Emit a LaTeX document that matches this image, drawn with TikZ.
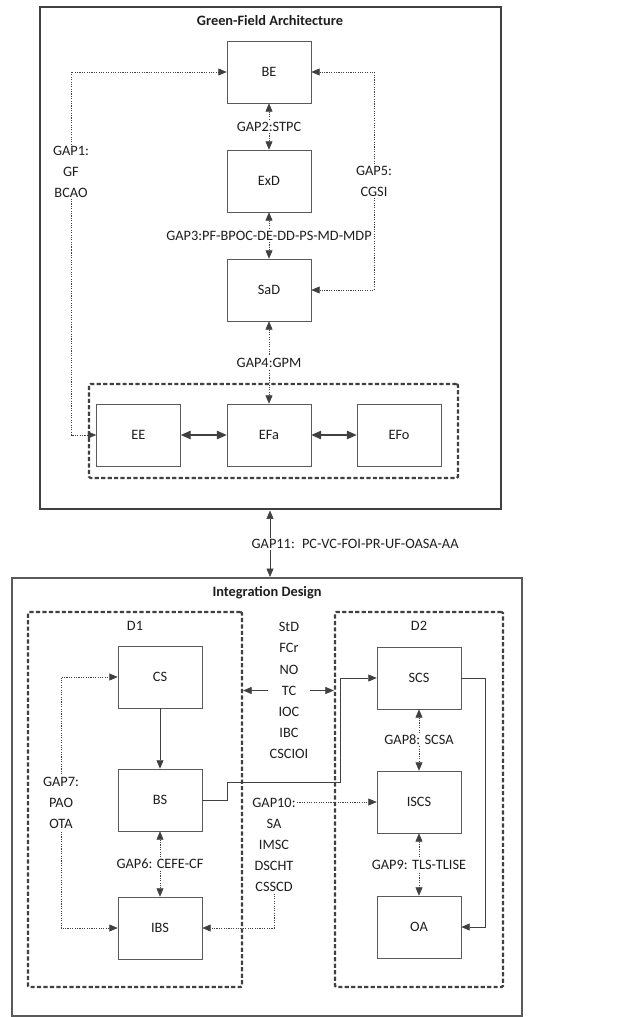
\documentclass[tikz,border=0pt]{standalone}
\usepackage{fontspec}
\setmainfont{Carlito}
\usetikzlibrary{arrows.meta}
\usepackage{xcolor}
\definecolor{line_gray}{RGB}{64, 64, 64}
\definecolor{box_gray}{RGB}{90, 90, 90}
\definecolor{text_dark}{RGB}{30, 30, 30}

\begin{document}
\begin{tikzpicture}[x=0.025cm, y=-0.025cm, font=\fontsize{10.2}{15}\selectfont, text=text_dark,
    box/.style={draw=box_gray, fill=white, minimum width=2.1cm, minimum height=1.55cm},
    group/.style={draw=line_gray, line width=1.6pt, dash pattern=on 3pt off 1.6pt, rounded corners=1pt},
    gap/.style={line_gray, dash pattern=on 0.8pt off 0.9pt, {Triangle[length=6pt,width=5pt]}-{Triangle[length=6pt,width=5pt]}},
    gapto/.style={line_gray, dash pattern=on 0.8pt off 0.9pt, -{Triangle[length=6pt,width=5pt]}},
    link/.style={line_gray, semithick, -{Triangle[length=6pt,width=5pt]}},
    linkboth/.style={line_gray, thick, {Triangle[length=7pt,width=6pt]}-{Triangle[length=7pt,width=6pt]}},
    lbl/.style={fill=white, text=text_dark, inner sep=1pt, align=center}]

      \useasboundingbox (0,0) rectangle (633,1017);

      % 1. MARCOS
      \node[draw=line_gray, line width=2pt, minimum width=11.525cm, minimum height=12.55cm] (gfa) at (270.5,258) {};
      \node[font=\fontsize{10.2}{15}\selectfont\bfseries] (gfatitle) at (270,21) {Green-Field Architecture};
      \node[draw=box_gray, line width=1.4pt, minimum width=12.75cm, minimum height=10.95cm] (intd) at (267,797) {};
      \node[font=\fontsize{10.2}{15}\selectfont\bfseries] (intdtitle) at (267,593) {Integration Design};

      % Grupos punteados
      \node[group, minimum width=9.225cm, minimum height=2.35cm] (envgroup) at (273.5,431) {};
      \node[group, minimum width=5.35cm, minimum height=9.375cm] (d1) at (135,799.5) {};
      \node[group, minimum width=4.2cm, minimum height=9.375cm] (d2) at (419,799.5) {};
      \node (d1label) at (135,626) {D1};
      \node (d2label) at (419,626) {D2};

      % 2. CAJAS (arriba)
      \node[box] (be) at (269,72) {BE};
      \node[box] (exd) at (269,181) {ExD};
      \node[box] (sad) at (269,290) {SaD};
      \node[box] (ee) at (138.5,435) {EE};
      \node[box] (efa) at (269,435) {EFa};
      \node[box] (efo) at (399,435) {EFo};

      % Cajas (abajo)
      \node[box] (cs) at (160,677) {CS};
      \node[box] (bs) at (160,800) {BS};
      \node[box] (ibs) at (160,928) {IBS};
      \node[box] (scs) at (419,678) {SCS};
      \node[box] (iscs) at (419,802) {ISCS};
      \node[box] (oa) at (419,927) {OA};

      % 3. CONECTORES (arriba)
      \draw[gap] (be) -- node[lbl] {GAP2:STPC} (exd);
      \draw[gap] (exd) -- node[lbl] {GAP3:PF-BPOC-DE-DD-PS-MD-MDP} (sad);
      \draw[gap] (sad) -- node[lbl] {GAP4:GPM} (efa);
      \draw[gapto] (71,250) |- (be.west);
      \draw[gapto] (71,250) |- (ee.west);
      \node[lbl] (gap1) at (71,172) {GAP1:\\GF\\BCAO};
      \draw[gapto] (374,181) |- (be.east);
      \draw[gapto] (374,181) |- (sad.east);
      \node[lbl] (gap5) at (374,181) {GAP5:\\CGSI};
      \draw[linkboth] (ee) -- (efa);
      \draw[linkboth] (efa) -- (efo);

      % Entre marcos
      \draw[line_gray, {Triangle[length=6pt,width=5pt]}-{Triangle[length=6pt,width=5pt]}] (gfa.south -| 270,0) -- (intd.north -| 270,0);
      \node[lbl, anchor=west] (gap11) at (250,544) {GAP11:\enspace PC-VC-FOI-PR-UF-OASA-AA};

      % Conectores (abajo)
      \draw[link] (cs) -- (bs);
      \draw[gap] (bs) -- node[lbl] {GAP6: CEFE-CF} (ibs);
      \draw[gapto] (61,803) |- (cs.west);
      \draw[gapto] (61,803) |- (ibs.west);
      \node[lbl] (gap7) at (61,803) {GAP7:\\PAO\\OTA};
      \draw[gap] (scs) -- node[lbl] {GAP8: SCSA} (iscs);
      \draw[gap] (iscs) -- node[lbl] {GAP9: TLS-TLISE} (oa);
      \draw[link] (bs.east) -- ++(25,0) |- (340,782) |- (scs.west);
      \draw[link] (scs.east) -- ++(24,0) |- (oa.east);

      % Textos del medio
      \node[align=center, inner sep=1pt] (dif) at (289,690.5) {StD\\FCr\\NO\\TC\\IOC\\IBC\\CSCIOI};
      \draw[link, thin] (dif.west) -- (d1.east |- dif.west);
      \draw[link, thin] (dif.east) -- (d2.west |- dif.east);
      \node[align=center, inner sep=1pt] (gap10) at (274,845) {GAP10:\\SA\\IMSC\\DSCHT\\CSSCD};
      \coordinate (gap10out) at (297,802);
      \draw[gapto] (gap10out) -- (iscs.west);
      \draw[gapto] (gap10.south) |- (ibs.east);

\end{tikzpicture}
\end{document}
